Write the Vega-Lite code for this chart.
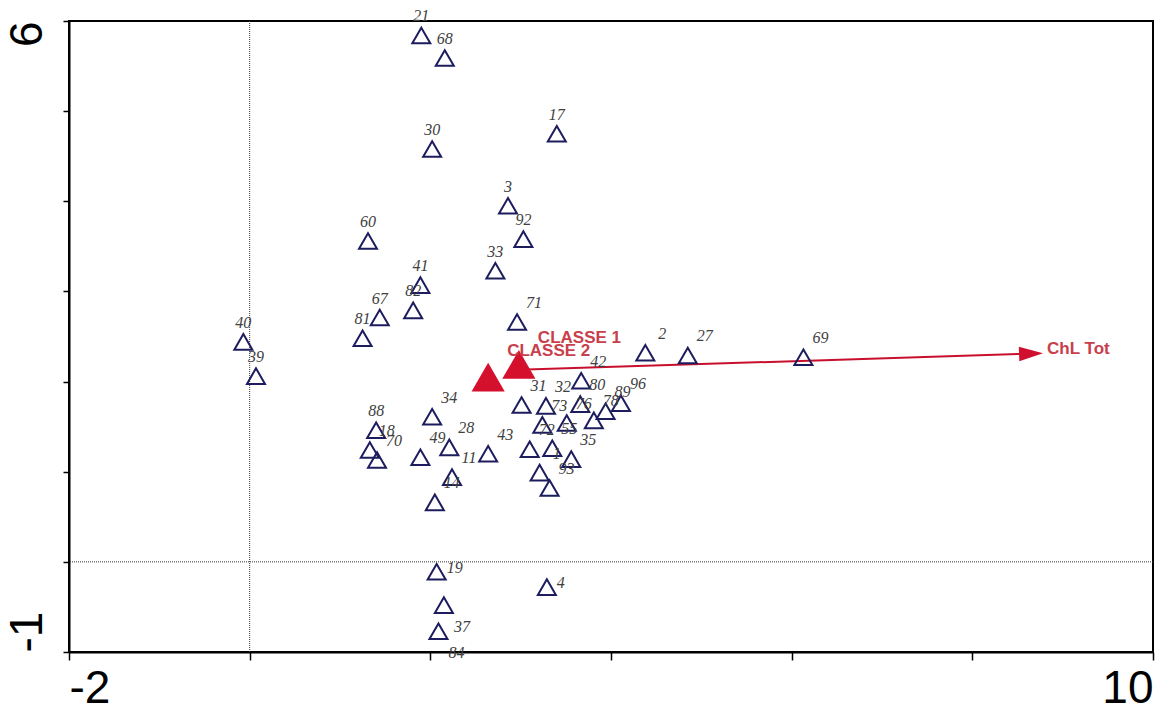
{
  "$schema": "https://vega.github.io/schema/vega-lite/v6.json",
  "width": 1084,
  "height": 631,
  "autosize": {"type": "none"},
  "padding": {"left": 69, "top": 21, "right": 2, "bottom": 61},
  "background": "white",
  "config": {"view": {"stroke": "#000000", "strokeWidth": 2}, "axis": {"grid": false}},
  "datasets": {
    "pts": [
      {"id": "21", "x": 1.90, "y": 5.84},
      {"id": "68", "x": 2.16, "y": 5.59},
      {"id": "30", "x": 2.02, "y": 4.58},
      {"id": "17", "x": 3.40, "y": 4.75},
      {"id": "3", "x": 2.86, "y": 3.95},
      {"id": "92", "x": 3.03, "y": 3.58},
      {"id": "60", "x": 1.31, "y": 3.56},
      {"id": "33", "x": 2.72, "y": 3.23},
      {"id": "41", "x": 1.89, "y": 3.07},
      {"id": "82", "x": 1.81, "y": 2.79},
      {"id": "67", "x": 1.44, "y": 2.71},
      {"id": "81", "x": 1.25, "y": 2.48},
      {"id": "71", "x": 2.96, "y": 2.66},
      {"id": "40", "x": -0.07, "y": 2.44},
      {"id": "39", "x": 0.07, "y": 2.06},
      {"id": "2", "x": 4.38, "y": 2.32},
      {"id": "27", "x": 4.85, "y": 2.29},
      {"id": "69", "x": 6.13, "y": 2.27},
      {"id": "42", "x": 3.67, "y": 2.01},
      {"id": "31", "x": 3.01, "y": 1.74},
      {"id": "32", "x": 3.28, "y": 1.73},
      {"id": "80", "x": 3.66, "y": 1.75},
      {"id": "96", "x": 4.11, "y": 1.76},
      {"id": "89", "x": 3.94, "y": 1.67},
      {"id": "78", "x": 3.81, "y": 1.57},
      {"id": "73", "x": 3.24, "y": 1.52},
      {"id": "76", "x": 3.51, "y": 1.54},
      {"id": "72", "x": 3.10, "y": 1.25},
      {"id": "55", "x": 3.35, "y": 1.26},
      {"id": "35", "x": 3.56, "y": 1.14},
      {"id": "1", "x": 3.21, "y": 0.99},
      {"id": "93", "x": 3.32, "y": 0.82},
      {"id": "43", "x": 2.64, "y": 1.20},
      {"id": "88", "x": 1.40, "y": 1.46},
      {"id": "18", "x": 1.33, "y": 1.24},
      {"id": "70", "x": 1.41, "y": 1.13},
      {"id": "49", "x": 1.89, "y": 1.16},
      {"id": "34", "x": 2.02, "y": 1.61},
      {"id": "28", "x": 2.21, "y": 1.27},
      {"id": "11", "x": 2.24, "y": 0.94},
      {"id": "14", "x": 2.05, "y": 0.66},
      {"id": "19", "x": 2.07, "y": -0.11},
      {"id": "37", "x": 2.15, "y": -0.48},
      {"id": "84", "x": 2.09, "y": -0.77},
      {"id": "4", "x": 3.29, "y": -0.28}
    ],
    "classes": [
      {"name": "CLASSE 2", "x": 2.64, "y": 2.05},
      {"name": "CLASSE 1", "x": 2.98, "y": 2.19}
    ],
    "vec": [
      {"name": "ChL Tot", "x": 2.98, "y": 2.13, "x2": 8.65, "y2": 2.31}
    ]
  },
  "layer": [
    {
      "data": {"values": [{}]},
      "mark": {"type": "rule", "strokeDash": [1, 1], "color": "#333333", "strokeWidth": 1},
      "encoding": {
        "x": {"datum": 0, "type": "quantitative", "scale": {"domain": [-2, 10], "nice": false, "zero": false}, "title": null}
      }
    },
    {
      "data": {"values": [{}]},
      "mark": {"type": "rule", "strokeDash": [1, 1], "color": "#333333", "strokeWidth": 1},
      "encoding": {
        "y": {"datum": 0, "type": "quantitative", "scale": {"domain": [-1, 6], "nice": false, "zero": false}, "title": null}
      }
    },
    {
      "data": {"name": "vec"},
      "mark": {"type": "rule", "color": "#c8102e", "strokeWidth": 2},
      "encoding": {
        "x": {"field": "x", "type": "quantitative", "scale": {"domain": [-2, 10], "nice": false, "zero": false}, "title": null},
        "y": {"field": "y", "type": "quantitative", "scale": {"domain": [-1, 6], "nice": false, "zero": false}, "title": null},
        "x2": {"field": "x2"},
        "y2": {"field": "y2"}
      }
    },
    {
      "data": {"name": "vec"},
      "mark": {"type": "point", "shape": "M1,0L-1,-0.6L-1,0.6Z", "filled": true, "color": "#d0102e", "opacity": 1, "size": 576, "angle": -2},
      "encoding": {
        "x": {"field": "x2", "type": "quantitative", "scale": {"domain": [-2, 10], "nice": false, "zero": false}, "title": null},
        "y": {"field": "y2", "type": "quantitative", "scale": {"domain": [-1, 6], "nice": false, "zero": false}, "title": null}
      }
    },
    {
      "data": {"name": "vec"},
      "mark": {"type": "text", "align": "left", "baseline": "middle", "dx": 16, "dy": -5, "font": "Liberation Sans", "fontWeight": "bold", "fontSize": 17, "color": "#c8404c"},
      "encoding": {
        "x": {"field": "x2", "type": "quantitative", "scale": {"domain": [-2, 10], "nice": false, "zero": false}, "title": null},
        "y": {"field": "y2", "type": "quantitative", "scale": {"domain": [-1, 6], "nice": false, "zero": false}, "title": null},
        "text": {"field": "name"}
      }
    },
    {
      "data": {"name": "pts"},
      "mark": {"type": "point", "shape": "triangle-up", "filled": false, "color": "#1c1c5e", "strokeWidth": 2, "size": 324, "opacity": 1},
      "encoding": {
        "x": {"field": "x", "type": "quantitative", "scale": {"domain": [-2, 10], "nice": false, "zero": false}, "title": null,
          "axis": {"values": [-2, 0, 2, 4, 6, 8, 10], "labelExpr": "datum.value == -2 ? '-2' : (datum.value == 10 ? '10' : '')", "labelFlush": true, "labelFont": "Liberation Sans", "labelFontSize": 46, "labelColor": "#000000", "labelPadding": 6, "tickSize": 8, "tickWidth": 1.5, "tickColor": "#000000", "domainColor": "#000000", "domainWidth": 2, "grid": false}},
        "y": {"field": "y", "type": "quantitative", "scale": {"domain": [-1, 6], "nice": false, "zero": false}, "title": null,
          "axis": {"values": [-1, 0, 1, 2, 3, 4, 5, 6], "labelExpr": "datum.value == -1 ? '-1' : (datum.value == 6 ? '6' : '')", "labelAngle": 270, "labelAlign": {"condition": {"test": "datum.value == 6", "value": "right"}, "value": "left"}, "labelBaseline": "bottom", "labelFont": "Liberation Sans", "labelFontSize": 46, "labelColor": "#000000", "labelPadding": 12, "tickSize": 6, "tickWidth": 1.5, "tickColor": "#000000", "domainColor": "#000000", "domainWidth": 2, "grid": false}}
      }
    },
    {
      "data": {"name": "pts"},
      "transform": [{"filter": {"field": "id", "oneOf": ["21", "68", "30", "17", "3", "92", "60", "33", "41", "82", "67", "81", "40", "39", "88"]}}],
      "mark": {"type": "text", "align": "center", "baseline": "middle", "dx": 0, "dy": -19, "font": "Liberation Serif", "fontStyle": "italic", "fontSize": 16, "color": "#404040"},
      "encoding": {
        "x": {"field": "x", "type": "quantitative", "scale": {"domain": [-2, 10], "nice": false, "zero": false}, "title": null},
        "y": {"field": "y", "type": "quantitative", "scale": {"domain": [-1, 6], "nice": false, "zero": false}, "title": null},
        "text": {"field": "id"}
      }
    },
    {
      "data": {"name": "pts"},
      "transform": [{"filter": {"field": "id", "oneOf": ["71", "2", "27", "69", "42", "31", "32", "80", "96", "89", "78", "73", "76", "72", "55", "35", "1", "93", "43", "18", "70", "49", "34", "28", "11", "14"]}}],
      "mark": {"type": "text", "align": "center", "baseline": "middle", "dx": 17, "dy": -19, "font": "Liberation Serif", "fontStyle": "italic", "fontSize": 16, "color": "#404040"},
      "encoding": {
        "x": {"field": "x", "type": "quantitative", "scale": {"domain": [-2, 10], "nice": false, "zero": false}, "title": null},
        "y": {"field": "y", "type": "quantitative", "scale": {"domain": [-1, 6], "nice": false, "zero": false}, "title": null},
        "text": {"field": "id"}
      }
    },
    {
      "data": {"name": "pts"},
      "transform": [{"filter": {"field": "id", "oneOf": ["19", "4"]}}],
      "mark": {"type": "text", "align": "left", "baseline": "middle", "dx": 10, "dy": -4, "font": "Liberation Serif", "fontStyle": "italic", "fontSize": 16, "color": "#404040"},
      "encoding": {
        "x": {"field": "x", "type": "quantitative", "scale": {"domain": [-2, 10], "nice": false, "zero": false}, "title": null},
        "y": {"field": "y", "type": "quantitative", "scale": {"domain": [-1, 6], "nice": false, "zero": false}, "title": null},
        "text": {"field": "id"}
      }
    },
    {
      "data": {"name": "pts"},
      "transform": [{"filter": {"field": "id", "oneOf": ["37", "84"]}}],
      "mark": {"type": "text", "align": "center", "baseline": "middle", "dx": 18, "dy": 22, "font": "Liberation Serif", "fontStyle": "italic", "fontSize": 16, "color": "#404040"},
      "encoding": {
        "x": {"field": "x", "type": "quantitative", "scale": {"domain": [-2, 10], "nice": false, "zero": false}, "title": null},
        "y": {"field": "y", "type": "quantitative", "scale": {"domain": [-1, 6], "nice": false, "zero": false}, "title": null},
        "text": {"field": "id"}
      }
    },
    {
      "data": {"name": "classes"},
      "mark": {"type": "point", "shape": "triangle-up", "filled": true, "color": "#d4102c", "size": 1100, "opacity": 1},
      "encoding": {
        "x": {"field": "x", "type": "quantitative", "scale": {"domain": [-2, 10], "nice": false, "zero": false}, "title": null},
        "y": {"field": "y", "type": "quantitative", "scale": {"domain": [-1, 6], "nice": false, "zero": false}, "title": null}
      }
    },
    {
      "data": {"name": "classes"},
      "mark": {"type": "text", "align": "left", "baseline": "middle", "dx": 19, "dy": -26, "font": "Liberation Sans", "fontWeight": "bold", "fontSize": 17, "color": "#c8404c"},
      "encoding": {
        "x": {"field": "x", "type": "quantitative", "scale": {"domain": [-2, 10], "nice": false, "zero": false}, "title": null},
        "y": {"field": "y", "type": "quantitative", "scale": {"domain": [-1, 6], "nice": false, "zero": false}, "title": null},
        "text": {"field": "name"}
      }
    }
  ]
}
